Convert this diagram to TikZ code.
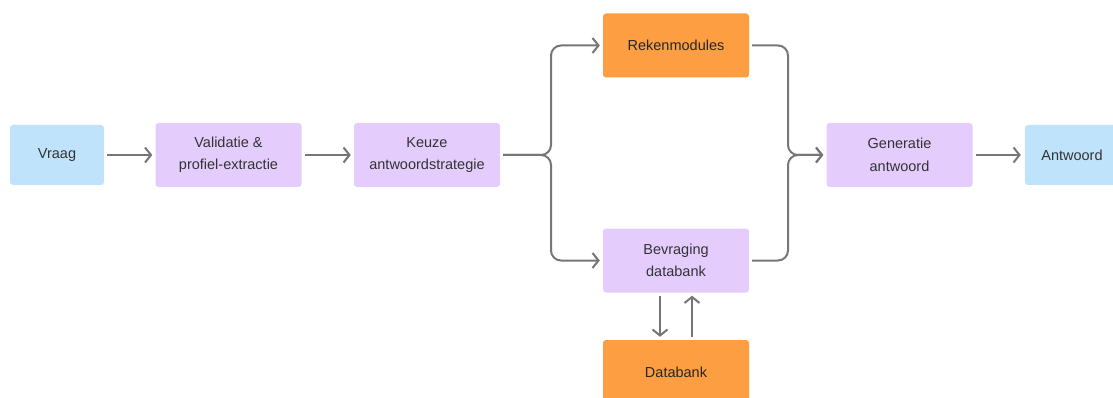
\documentclass[tikz,border=0pt]{standalone}
\usepackage{fontspec}
\setmainfont{Liberation Sans}
\usetikzlibrary{arrows.meta,calc}
\definecolor{bluefill}{HTML}{BFE3FB}
\definecolor{lilacfill}{HTML}{E4CDFC}
\definecolor{orangefill}{HTML}{FD9E42}
\definecolor{inkgray}{HTML}{767676}
\definecolor{textdark}{HTML}{333333}
\tikzset{
  box/.style={rectangle, rounded corners=3pt, draw=none, minimum width=146pt,
    minimum height=64pt, align=center, text=textdark,
    font=\fontsize{14.5}{22.5}\selectfont, inner sep=0pt},
  endbox/.style={box, fill=bluefill, minimum width=94pt, minimum height=60pt},
  stepbox/.style={box, fill=lilacfill},
  modbox/.style={box, fill=orangefill, text=black!85},
  conn/.style={draw=inkgray, line width=2pt,
    -{Straight Barb[length=6pt,width=15pt]}},
  link/.style={draw=inkgray, line width=2pt, rounded corners=10pt}
}
\begin{document}
\begin{tikzpicture}[x=1pt,y=-1pt]
\useasboundingbox (0,0) rectangle (1113,398);
\clip (0,0) rectangle (1113,398);

% nodes
\node[endbox]  (vraag)  at (57,155)   {Vraag};
\node[stepbox] (valid)  at (228.5,155) {Validatie \&\\profiel-extractie};
\node[stepbox] (keuze)  at (427,155)  {Keuze\\antwoordstrategie};
\node[modbox]  (reken)  at (676,45.5) {Rekenmodules};
\node[stepbox] (bevr)   at (676,260.5) {Bevraging\\databank};
\node[modbox]  (db)     at (676,372)  {Databank};
\node[stepbox] (gen)    at (899.5,155) {Generatie\\antwoord};
\node[endbox]  (antw)   at (1072,155) {Antwoord};

% branch and merge points
\coordinate (split) at (551,155);
\coordinate (merge) at (788,155);

% straight flow
\draw[conn, shorten <=3pt, shorten >=3pt] (vraag) -- (valid);
\draw[conn, shorten <=3pt, shorten >=3pt] (valid) -- (keuze);
\draw[conn, shorten <=3pt, shorten >=4pt] (gen) -- (antw);

% split towards the two modules
\draw[link, conn, shorten <=3pt, shorten >=3pt]
  (keuze.east) -| (split |- reken.west) -- (reken.west);
\draw[link, conn, shorten <=3pt, shorten >=3pt]
  (keuze.east) -| (split |- bevr.west) -- (bevr.west);

% merge into answer generation
\draw[link, conn, shorten <=3pt, shorten >=3pt]
  (reken.east) -| (merge) -- (gen.west);
\draw[link, conn, shorten <=3pt, shorten >=3pt]
  (bevr.east) -| (merge) -- (gen.west);

% query and result between module and database
\draw[conn, shorten <=3pt, shorten >=3pt]
  ($(bevr.south)+(-16,0)$) -- ($(db.north)+(-16,0)$);
\draw[conn, shorten <=3pt, shorten >=3pt]
  ($(db.north)+(16,0)$) -- ($(bevr.south)+(16,0)$);
\end{tikzpicture}
\end{document}
